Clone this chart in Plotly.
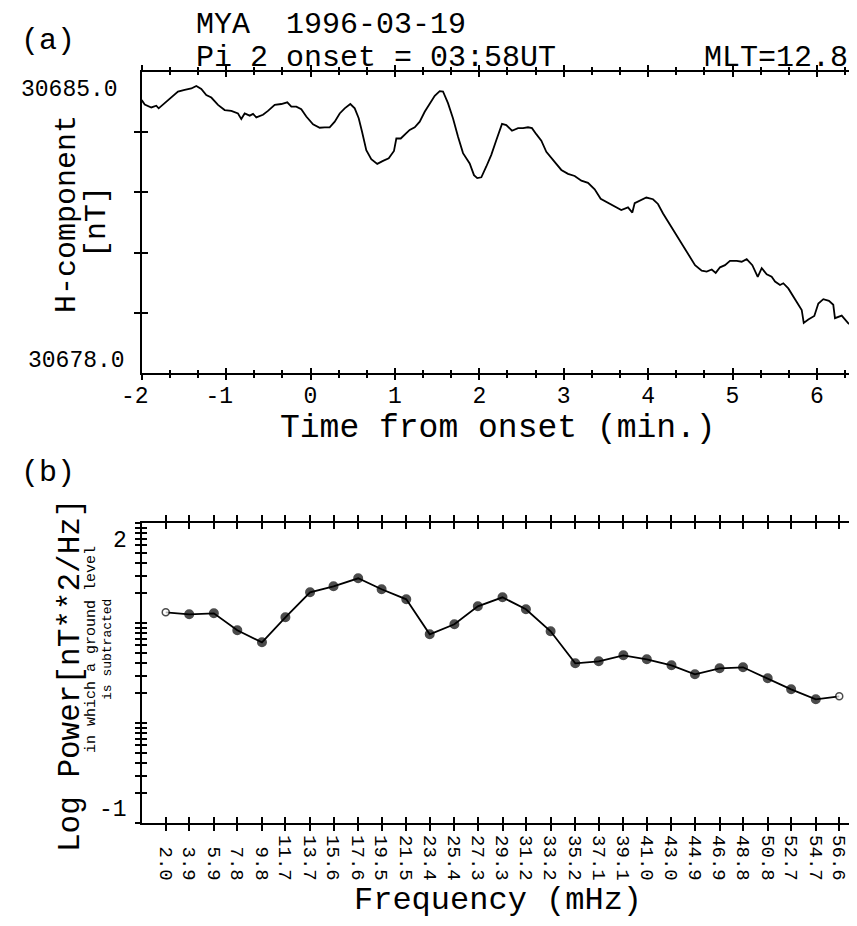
import numpy as np
import plotly.graph_objects as go

# ---------------- data ----------------
time_min = [-2.000, -1.964, -1.886, -1.827, -1.799, -1.727, -1.649, -1.570, -1.491, -1.412,
            -1.353, -1.294, -1.235, -1.175, -1.096, -1.017, -0.938, -0.859, -0.820, -0.780,
            -0.720, -0.681, -0.642, -0.563, -0.504, -0.424, -0.346, -0.275, -0.227, -0.168,
            -0.109, -0.050, 0.030, 0.109, 0.168, 0.227, 0.287, 0.346, 0.405, 0.472,
            0.524, 0.571, 0.610, 0.661, 0.720, 0.791, 0.859, 0.927, 0.989, 1.017,
            1.069, 1.123, 1.175, 1.235, 1.294, 1.353, 1.412, 1.472, 1.531, 1.570,
            1.629, 1.688, 1.748, 1.807, 1.886, 1.937, 1.976, 2.024, 2.083, 2.142,
            2.201, 2.269, 2.320, 2.387, 2.459, 2.518, 2.577, 2.624, 2.675, 2.735,
            2.794, 2.853, 2.912, 2.972, 3.051, 3.130, 3.209, 3.288, 3.367, 3.438,
            3.525, 3.604, 3.682, 3.762, 3.813, 3.841, 3.900, 3.979, 4.058, 4.117,
            4.177, 4.236, 4.295, 4.354, 4.398, 4.476, 4.556, 4.635, 4.694, 4.754,
            4.801, 4.852, 4.911, 4.970, 5.050, 5.109, 5.168, 5.235, 5.299, 5.346,
            5.405, 5.464, 5.504, 5.563, 5.602, 5.661, 5.720, 5.780, 5.820, 5.844,
            5.898, 5.969, 6.017, 6.076, 6.143, 6.194, 6.214, 6.294, 6.372, 6.472]

h_nT = [30684.34, 30684.24, 30684.17, 30684.21, 30684.15, 30684.27, 30684.42, 30684.54, 30684.58, 30684.61,
        30684.67, 30684.60, 30684.46, 30684.40, 30684.23, 30684.11, 30684.09, 30684.03, 30683.90, 30684.03,
        30683.98, 30684.02, 30683.94, 30684.00, 30684.09, 30684.23, 30684.25, 30684.29, 30684.19, 30684.19,
        30684.13, 30683.96, 30683.78, 30683.70, 30683.71, 30683.71, 30683.84, 30684.03, 30684.15, 30684.25,
        30684.15, 30683.92, 30683.61, 30683.18, 30682.97, 30682.86, 30682.93, 30682.99, 30683.16, 30683.45,
        30683.45, 30683.55, 30683.65, 30683.71, 30683.84, 30684.07, 30684.27, 30684.44, 30684.55, 30684.54,
        30684.27, 30683.92, 30683.49, 30683.11, 30682.87, 30682.60, 30682.53, 30682.55, 30682.80, 30683.07,
        30683.41, 30683.79, 30683.76, 30683.63, 30683.69, 30683.69, 30683.71, 30683.69, 30683.55, 30683.40,
        30683.14, 30683.01, 30682.86, 30682.72, 30682.63, 30682.58, 30682.47, 30682.42, 30682.27, 30682.05,
        30681.96, 30681.87, 30681.79, 30681.85, 30681.73, 30681.95, 30682.01, 30682.08, 30682.04, 30681.93,
        30681.71, 30681.52, 30681.33, 30681.13, 30681.02, 30680.75, 30680.51, 30680.38, 30680.36, 30680.41,
        30680.33, 30680.46, 30680.51, 30680.61, 30680.61, 30680.59, 30680.65, 30680.51, 30680.24, 30680.44,
        30680.30, 30680.24, 30680.13, 30680.05, 30680.09, 30679.97, 30679.78, 30679.59, 30679.47, 30679.17,
        30679.25, 30679.33, 30679.62, 30679.72, 30679.68, 30679.59, 30679.28, 30679.34, 30679.16, 30679.04]

time_ticks = [-2, -1, 0, 1, 2, 3, 4, 5, 6]
time_range = [-2.0, 6.475]
h_range = [30678.0, 30685.0]
h_ticks = [30679.4, 30680.8, 30682.2, 30683.6]

freq_labels = ["2.0", "3.9", "5.9", "7.8", "9.8", "11.7", "13.7", "15.6", "17.6", "19.5",
               "21.5", "23.4", "25.4", "27.3", "29.3", "31.2", "33.2", "35.2", "37.1", "39.1",
               "41.0", "43.0", "44.9", "46.9", "48.8", "50.8", "52.7", "54.7", "56.6"]
log_power = [1.11, 1.09, 1.10, 0.93, 0.81, 1.06, 1.31, 1.37, 1.45, 1.34,
             1.24, 0.89, 0.99, 1.17, 1.26, 1.14, 0.92, 0.60, 0.62, 0.68,
             0.64, 0.58, 0.49, 0.55, 0.56, 0.45, 0.34, 0.24, 0.27]
freq_range = [0.05, 58.04]
logp_range = [-1, 2]
logp_decades = [-1, 0, 1, 2]

# ---------------- layout helpers ----------------
# the page body keeps its default 8px margin: the figure is sized so that it
# fills the 857x926 window exactly without scrollbars.
OX, OY = 8, 8
W, H = 857 - OX, 926 - 2 * OY
FONT = "Liberation Mono, Courier New, monospace"
NB = "\u00a0"


def fx(p):
    return (p - OX) / W


def fy(p):
    return 1 - (p - OY) / H


freqs = [float(s) for s in freq_labels]
maxlen = max(len(s) for s in freq_labels)
freq_text = [NB * (maxlen - len(s)) + s for s in freq_labels]
# negative labels: the digit sits on the tick, the minus sign hangs to the left
time_text = [str(t) + (NB if t < 0 else "") for t in time_ticks]
minor_log = [float(np.log10(k * 10.0 ** d)) for d in logp_decades[:-1] for k in range(2, 10)]

fig = go.Figure()
fig.add_trace(go.Scatter(x=time_min, y=h_nT, mode="lines",
                         line=dict(color="black", width=1.8),
                         xaxis="x", yaxis="y", showlegend=False, hoverinfo="skip"))

n = len(freqs)
mcolors = ["white" if i in (0, n - 1) else "black" for i in range(n)]
msizes = [7 if i in (0, n - 1) else 8.5 for i in range(n)]
fig.add_trace(go.Scatter(x=freqs, y=log_power, mode="lines+markers",
                         line=dict(color="black", width=1.8),
                         marker=dict(color=mcolors, size=msizes, line=dict(color="black", width=1.5)),
                         xaxis="x2", yaxis="y2", showlegend=False, hoverinfo="skip"))

# empty traces to register the overlay axes (tick marks crossing the frame)
for xa, ya in [("x3", "y"), ("x", "y3"), ("x", "y4"), ("x4", "y2"), ("x2", "y5")]:
    fig.add_trace(go.Scatter(x=[None], y=[None], xaxis=xa, yaxis=ya,
                             showlegend=False, hoverinfo="skip"))

dom_x = [fx(141.7), 1.0]
dom_y1 = [fy(373.3), fy(71.7)]
dom_y2 = [fy(823.3), fy(523.3)]

common = dict(showline=True, linecolor="black", linewidth=2, showgrid=False, zeroline=False,
              tickcolor="black", tickwidth=2, automargin=False)

fig.update_layout(
    width=W, height=H,
    margin=dict(l=0, r=0, t=0, b=0, autoexpand=False),
    paper_bgcolor="white", plot_bgcolor="white",
    font=dict(family=FONT, color="black"),
    xaxis=dict(domain=dom_x, range=time_range, anchor="y", mirror="ticks",
               ticks="inside", ticklen=5, tickmode="array", tickvals=time_ticks,
               ticktext=time_text, tickfont=dict(size=23, family=FONT),
               minor=dict(ticks="inside", tickmode="linear", tick0=-2, dtick=1 / 3,
                          ticklen=3, tickwidth=1.5, tickcolor="black"),
               **common),
    xaxis3=dict(overlaying="x", range=time_range, anchor="y", mirror="ticks",
                ticks="outside", ticklen=5, tickmode="array", tickvals=time_ticks,
                showticklabels=False,
                minor=dict(ticks="outside", tickmode="linear", tick0=-2, dtick=1 / 3,
                           ticklen=3, tickwidth=1.5, tickcolor="black"),
                **common),
    yaxis=dict(domain=dom_y1, range=h_range, anchor="x", ticks="outside", ticklen=6,
               tickmode="array", tickvals=h_ticks, showticklabels=False, **common),
    yaxis3=dict(overlaying="y", range=h_range, anchor="x", side="left", ticks="inside",
                ticklen=6, tickmode="array", tickvals=h_ticks, showticklabels=False, **common),
    yaxis4=dict(overlaying="y", range=h_range, anchor="x", side="right", ticks="inside",
                ticklen=6, tickmode="array", tickvals=h_ticks, showticklabels=False,
                showline=False, showgrid=False, zeroline=False, tickcolor="black",
                tickwidth=1.5, automargin=False),
    xaxis2=dict(domain=dom_x, range=freq_range, anchor="y2", mirror="ticks",
                ticks="outside", ticklen=6, tickmode="array", tickvals=freqs,
                ticktext=freq_text, tickangle=90, tickfont=dict(size=19, family=FONT),
                **common),
    xaxis4=dict(overlaying="x2", range=freq_range, anchor="y2", mirror="ticks",
                ticks="inside", ticklen=6, tickmode="array", tickvals=freqs,
                showticklabels=False, **common),
    yaxis2=dict(domain=dom_y2, range=logp_range, anchor="x2", ticks="outside", ticklen=5,
                tickmode="array", tickvals=logp_decades, showticklabels=False,
                minor=dict(ticks="outside", tickmode="array", tickvals=minor_log,
                           ticklen=5, tickwidth=1.5, tickcolor="black"),
                **common),
    yaxis5=dict(overlaying="y2", range=logp_range, anchor="x2", side="left", ticks="inside",
                ticklen=5, tickmode="array", tickvals=logp_decades, showticklabels=False,
                minor=dict(ticks="inside", tickmode="array", tickvals=minor_log,
                           ticklen=5, tickwidth=1.5, tickcolor="black"),
                **common),
)


def note(text, x, y, size, xanchor="center", yanchor="middle", angle=0,
         xref="paper", yref="paper", xshift=0, yshift=0):
    fig.add_annotation(text=text, x=x, y=y, xref=xref, yref=yref, showarrow=False,
                       xanchor=xanchor, yanchor=yanchor, textangle=angle,
                       xshift=xshift, yshift=yshift,
                       font=dict(family=FONT, size=size, color="black"))


# panel (a) texts
note("(a)", fx(48), fy(41), 30)
note("MYA  1996-03-19", fx(194), fy(25), 30, xanchor="left")
note("Pi 2 onset = 03:58UT", fx(194), fy(58), 30, xanchor="left")
note("MLT=12.8", fx(850), fy(58), 30, xanchor="right")
note(f"{h_range[1]:.1f}", time_range[0], h_range[1], 23, xanchor="right",
     xref="x", yref="y", xshift=-22, yshift=-18)
note(f"{h_range[0]:.1f}", time_range[0], h_range[0], 23, xanchor="right",
     xref="x", yref="y", xshift=-15, yshift=12)
note("H-component", fx(67), fy(214), 30, angle=-90)
note("[nT]", fx(97), fy(222), 30, angle=-90)
note("Time from onset (min.)", fx(498), fy(428), 33)

# panel (b) texts
note("(b)", fx(48), fy(473), 30)
note("Log Power[nT**2/Hz]", fx(70), fy(676), 31, angle=-90)
note("in which a ground level", fx(91), fy(650), 15, angle=-90)
note("is subtracted", fx(107), fy(650), 13, angle=-90)
note(str(logp_range[1]), freq_range[0], logp_range[1], 23, xanchor="right",
     xref="x2", yref="y2", xshift=-13, yshift=-18)
note(str(logp_range[0]), freq_range[0], logp_range[0], 23, xanchor="right",
     xref="x2", yref="y2", xshift=-13, yshift=13)
note("Frequency (mHz)", fx(498), fy(900), 32)

fig.write_html("out.html")
